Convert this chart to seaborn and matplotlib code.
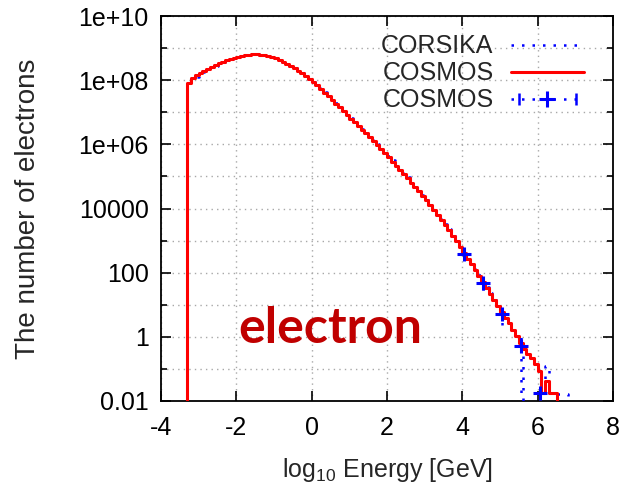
import numpy as np
import pandas as pd
import seaborn as sns
import matplotlib
matplotlib.use("Agg")
import matplotlib.pyplot as plt
from matplotlib.lines import Line2D
from matplotlib.legend_handler import HandlerLine2D

# ---- data: log10(number of electrons) per 0.1-wide bin of log10(E/GeV) ----
bin_start = -3.3
bin_width = 0.1

cosmos_log10 = [
    7.92, 8.06, 8.15, 8.22, 8.29, 8.35, 8.41, 8.47, 8.53, 8.58,
    8.62, 8.66, 8.70, 8.73, 8.76, 8.78, 8.80, 8.81, 8.81, 8.80,
    8.78, 8.75, 8.72, 8.68, 8.63, 8.57, 8.51, 8.44, 8.37, 8.29,
    8.21, 8.13, 8.04, 7.95, 7.84, 7.73, 7.61, 7.50, 7.38, 7.27,
    7.15, 7.03, 6.92, 6.80, 6.69, 6.57, 6.46, 6.34, 6.22, 6.10,
    5.98, 5.85, 5.72, 5.59, 5.46, 5.33, 5.20, 5.07, 4.94, 4.80,
    4.67, 4.53, 4.39, 4.25, 4.11, 3.96, 3.80, 3.64, 3.48, 3.32,
    3.15, 2.98, 2.80, 2.62, 2.44, 2.26, 2.07, 1.89, 1.70, 1.52,
    1.34, 1.15, 0.97, 0.78, 0.60, 0.42, 0.22, 0.03, -0.18, -0.38,
    -0.52, -0.66, -0.85, -1.06, -1.74, -1.38, -1.74, -1.74,
]

# nan marks an empty bin
corsika_log10 = [
    7.85, 7.99, 8.09, 8.17, 8.24, 8.31, 8.38, 8.45, 8.52, 8.57,
    8.62, 8.66, 8.70, 8.73, 8.76, 8.78, 8.80, 8.82, 8.81, 8.80,
    8.78, 8.76, 8.72, 8.69, 8.64, 8.58, 8.52, 8.45, 8.38, 8.30,
    8.22, 8.14, 8.05, 7.96, 7.86, 7.75, 7.63, 7.52, 7.41, 7.29,
    7.18, 7.06, 6.95, 6.83, 6.72, 6.60, 6.49, 6.37, 6.26, 6.13,
    6.01, 5.89, 5.76, 5.63, 5.50, 5.37, 5.24, 5.11, 4.97, 4.84,
    4.70, 4.57, 4.43, 4.29, 4.14, 3.99, 3.84, 3.68, 3.52, 3.36,
    3.19, 3.02, 2.84, 2.64, 2.48, 2.30, 2.10, 1.93, 1.72, 1.56,
    1.37, 1.18, 1.01, 0.80, 0.63, 0.46, 0.26, 0.05, -0.10, np.nan,
    np.nan, np.nan, np.nan, -1.75, -1.75, -0.90, -1.75, -1.78, -1.78, -1.78,
    -1.78,
]

# COSMOS sampled points with error bars (log10 values)
pts_energy = [4.05, 4.55, 5.05, 5.55, 6.05]
pts_log10 = [2.58, 1.67, 0.71, -0.28, -1.74]
pts_err_lo_log10 = [2.43, 1.45, 0.36, np.nan, np.nan]   # nan: bar reaches zero
pts_err_hi_log10 = [2.75, 1.85, 0.97, 0.19, -1.40]

y_ticks = [1e-2, 1e0, 1e2, 1e4, 1e6, 1e8, 1e10]
y_ticklabels = ["0.01", "1", "100", "10000", "1e+06", "1e+08", "1e+10"]
y_minor = [1e-1, 1e1, 1e3, 1e5, 1e7, 1e9]
x_ticks = [-4, -2, 0, 2, 4, 6, 8]

legend_labels = ["CORSIKA", "COSMOS", "COSMOS"]

BLUE = "#0000ff"
RED = "#ff0000"
DOT = (0, (1, 3.2))


def step_frame(values_log10):
    counts = np.nan_to_num(10.0 ** np.asarray(values_log10, dtype=float), nan=0.0)
    edges = bin_start + bin_width * np.arange(len(counts) + 1)
    # closed outline: rise from zero at the first edge, drop to zero at the last
    x = np.concatenate([[edges[0]], edges])
    y = np.concatenate([[0.0], counts, [0.0]])
    return pd.DataFrame({"energy": x, "count": y})


sns.set_style("ticks")
plt.rcParams["font.family"] = ["Liberation Sans", "DejaVu Sans"]
plt.rcParams["mathtext.fontset"] = "custom"
plt.rcParams["mathtext.rm"] = "Liberation Sans"
plt.rcParams["mathtext.it"] = "Liberation Sans:italic"

fig = plt.figure(figsize=(6.2, 4.86), dpi=100)
ax = fig.add_axes([161 / 620, 1 - 401 / 486, 452 / 620, 385 / 486])

sns.lineplot(data=step_frame(corsika_log10), x="energy", y="count", ax=ax,
             estimator=None, sort=False, drawstyle="steps-post",
             color=BLUE, lw=1.8, linestyle=DOT, zorder=3)
sns.lineplot(data=step_frame(cosmos_log10), x="energy", y="count", ax=ax,
             estimator=None, sort=False, drawstyle="steps-post",
             color=RED, lw=2.2, zorder=4)

py = 10.0 ** np.asarray(pts_log10)
lo = np.nan_to_num(10.0 ** np.asarray(pts_err_lo_log10), nan=0.0)
hi = 10.0 ** np.asarray(pts_err_hi_log10)
eb = ax.errorbar(pts_energy, py, yerr=[py - lo, hi - py], fmt="none",
                 ecolor=BLUE, elinewidth=1.8, zorder=5)
for coll in eb[2]:
    coll.set_linestyle(DOT)
sns.scatterplot(x=pts_energy, y=py, ax=ax, marker="+", s=110, color=BLUE,
                linewidth=2.2, zorder=6)

ax.set_yscale("log")
ax.set_xlim(-4, 8)
ax.set_ylim(1e-2, 1e10)
ax.set_xticks(x_ticks)
ax.set_xticklabels([str(t) for t in x_ticks])
ax.set_yticks(y_ticks)
ax.set_yticklabels(y_ticklabels)
ax.set_yticks(y_minor, minor=True)
ax.yaxis.set_minor_formatter(matplotlib.ticker.NullFormatter())
ax.xaxis.set_minor_locator(matplotlib.ticker.NullLocator())

ax.tick_params(which="both", direction="in", top=True, right=True,
               colors="black", width=1.2, labelsize=18, pad=9)
ax.tick_params(axis="x", which="major", pad=11)
ax.tick_params(which="major", length=7)
ax.tick_params(which="minor", length=4)
for s in ax.spines.values():
    s.set_linewidth(1.3)
    s.set_color("black")

grid_kw = dict(color="#a8a8a8", linestyle=(0, (1, 3)), linewidth=1.0)
ax.grid(True, which="major", axis="both", **grid_kw)
ax.grid(True, which="minor", axis="y", **grid_kw)
ax.set_axisbelow(True)

ax.set_xlabel(r"log$_{10}$ Energy [GeV]", fontsize=18, labelpad=11)
ax.set_ylabel("The number of electrons", fontsize=20, labelpad=27)

ax.text(-1.95, 10 ** -0.2, "electron", family=["Lato", "DejaVu Sans"],
        fontweight="bold", fontsize=36, color="#c00000", va="baseline",
        ha="left", zorder=7)

h_corsika = Line2D([], [], color=BLUE, lw=1.8, linestyle=DOT)
h_cosmos = Line2D([], [], color=RED, lw=2.2)
h_pts = Line2D([], [], color=BLUE, lw=1.8, linestyle=DOT, marker="+",
               markersize=11, markeredgewidth=2.2)
h_caps = Line2D([], [], color=BLUE, lw=0, marker="|", markersize=8,
                markeredgewidth=1.8)
leg = ax.legend([h_corsika, h_cosmos, (h_pts, h_caps)], legend_labels,
                loc="upper right", bbox_to_anchor=(0.935, 0.952),
                frameon=False, markerfirst=False, fontsize=18,
                handlelength=2.9, handletextpad=0.7, labelspacing=0.12,
                borderpad=0, borderaxespad=0,
                handler_map={h_pts: HandlerLine2D(numpoints=1),
                             h_caps: HandlerLine2D(numpoints=2)})

fig.savefig("out.png", dpi=100)
